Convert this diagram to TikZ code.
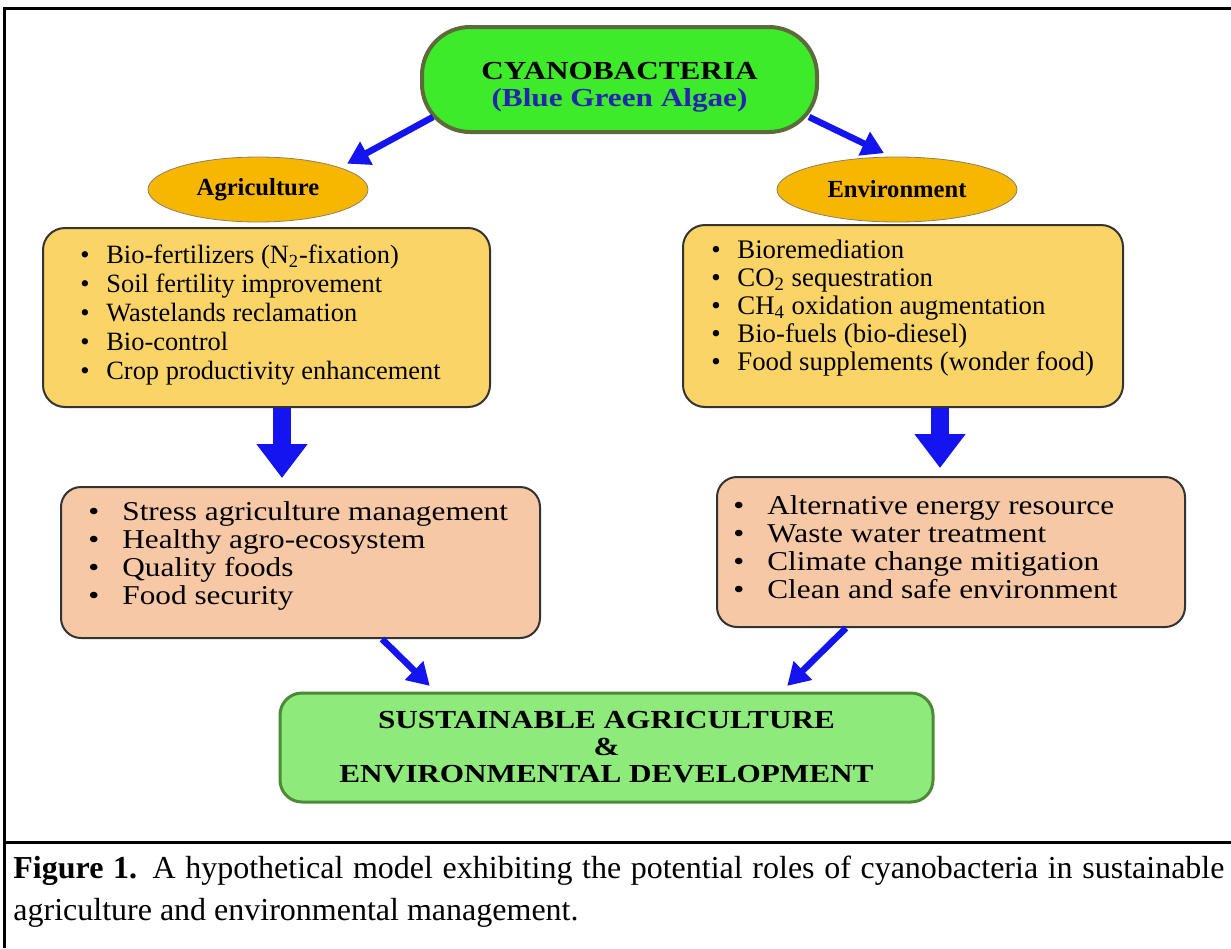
\documentclass[tikz,border=0pt]{standalone}
\usepackage{fontspec}
\setmainfont{Liberation Serif}
\newfontfamily\widefont[FakeStretch=1.2]{Liberation Serif}
\newfontfamily\pinkfont[FakeStretch=1.15]{Liberation Serif}
\usetikzlibrary{arrows.meta, positioning, shapes.geometric}
\definecolor{cyangreen}{HTML}{3DEB2A}
\definecolor{cyanedge}{HTML}{5C6A3C}
\definecolor{ovalfill}{HTML}{F7B700}
\definecolor{ovaledge}{HTML}{8C8060}
\definecolor{boxyellow}{HTML}{FAD466}
\definecolor{boxpink}{HTML}{F6C8A6}
\definecolor{sustgreen}{HTML}{8EEA7A}
\definecolor{sustedge}{HTML}{4C8A38}
\definecolor{arrblue}{HTML}{1414F0}
\definecolor{algaeblue}{HTML}{2424B0}
\newcommand{\bul}{\makebox[13pt][l]{\textbullet}}
\newcommand{\pbul}{\makebox[17pt][l]{\textbullet}}

\begin{document}
\begin{tikzpicture}[x=0.5pt,y=-0.5pt,
  topbox/.style={draw=cyanedge,line width=2pt,fill=cyangreen,rounded corners=24pt,
    minimum width=197.5pt,minimum height=52.5pt,align=center,font=\widefont\fontsize{13}{13.5}\selectfont\bfseries},
  oval/.style={ellipse,draw=ovaledge,thin,fill=ovalfill,font=\fontsize{12.3}{12.3}\selectfont\bfseries},
  yellowbox/.style={draw=black!80,line width=1pt,fill=boxyellow,rounded corners=11pt},
  pinkbox/.style={draw=black!80,line width=1pt,fill=boxpink,rounded corners=10pt},
  listtext/.style={anchor=west,inner sep=0pt,align=left},
  sustbox/.style={draw=sustedge,line width=1.5pt,fill=sustgreen,rounded corners=11pt,
    minimum width=326.5pt,minimum height=54.5pt,align=center,font=\widefont\fontsize{13}{13.5}\selectfont\bfseries},
  thinarrow/.style={arrblue,line width=3.25pt,-{Triangle[length=11pt,width=12.5pt]},shorten >=4pt},
  fatarrow/.style={arrblue,line width=9pt,-{Triangle[length=17pt,width=24.5pt]},shorten >=4pt}]
\useasboundingbox (0,0) rectangle (1231,948);
% frame
\draw[line width=1.5pt] (1231,8) -- (4,8) -- (4,948);
\draw[line width=1.5pt] (4,842) -- (1231,842);

% top node and the two branches
\node[topbox] (cyano) at (619.5,79.5) {\rule{0pt}{16pt}CYANOBACTERIA\\\textcolor{algaeblue}{(Blue Green Algae)}};
\node[oval,minimum width=110pt,minimum height=32.5pt] (agri) at (258,189.5) {Agriculture};
\node[oval,minimum width=120pt,minimum height=32.5pt] (env) at (897,189.5) {Environment};

% first level boxes
\node[yellowbox,minimum width=223.5pt,minimum height=89.5pt] (agribox) at (266.5,317.5) {};
\node[listtext,font=\fontsize{13.2}{14.5}\selectfont] (agrilist) at (80,315) {\bul Bio-fertilizers (N\textsubscript{2}-fixation)\\
  \bul Soil fertility improvement\\
  \bul Wastelands reclamation\\
  \bul Bio-control\\
  \bul Crop productivity enhancement};
\node[yellowbox,minimum width=220pt,minimum height=91pt] (envbox) at (903,316) {};
\node[listtext,font=\fontsize{13.4}{14}\selectfont] (envlist) at (711,308) {\bul Bioremediation\\
  \bul CO\textsubscript{2} sequestration\\
  \bul CH\textsubscript{4} oxidation augmentation\\
  \bul Bio-fuels (bio-diesel)\\
  \bul Food supplements (wonder food)};

% second level boxes
\node[pinkbox,minimum width=239.5pt,minimum height=75.5pt] (pinkL) at (300.5,562.5) {};
\node[listtext,font=\pinkfont\fontsize{13.6}{14}\selectfont] (pinkLlist) at (88,556) {\pbul Stress agriculture management\\
  \pbul Healthy agro-ecosystem\\
  \pbul Quality foods\\
  \pbul Food security};
\node[pinkbox,minimum width=234pt,minimum height=75pt] (pinkR) at (951,552) {};
\node[listtext,font=\pinkfont\fontsize{13.6}{14}\selectfont] (pinkRlist) at (733,547) {\pbul Alternative energy resource\\
  \pbul Waste water treatment\\
  \pbul Climate change mitigation\\
  \pbul Clean and safe environment};

% goal
\node[sustbox] (sust) at (606.5,747.5) {SUSTAINABLE AGRICULTURE\\\&\\ENVIRONMENTAL DEVELOPMENT};

% arrows
\draw[thinarrow] ([shift={(13,-17)}]cyano.south west) -- (agri.15);
\draw[thinarrow] ([shift={(-10,-17)}]cyano.south east) -- (env.100);
\coordinate (ldown) at ([shift={(-18.5,0)}]pinkL.north);
\draw[fatarrow] (agribox.south -| ldown) -- (ldown);
\coordinate (rdown) at ([shift={(-11,0)}]pinkR.north);
\draw[fatarrow] (envbox.south -| rdown) -- (rdown);
\draw[thinarrow] ([shift={(322,0)}]pinkL.south west) -- ([shift={(157,0)}]sust.north west);
\draw[thinarrow] ([shift={(130,0)}]pinkR.south west) -- ([shift={(503,0)}]sust.north west);

% caption
\node[anchor=west,inner sep=0pt,text width=605.5pt,align=justify,font=\fontsize{16}{21}\selectfont] (caption) at (13,892)
  {\textbf{Figure 1.} A hypothetical model exhibiting the potential roles of cyanobacteria in sustainable\linebreak agriculture and environmental management.};
\end{tikzpicture}
\end{document}
